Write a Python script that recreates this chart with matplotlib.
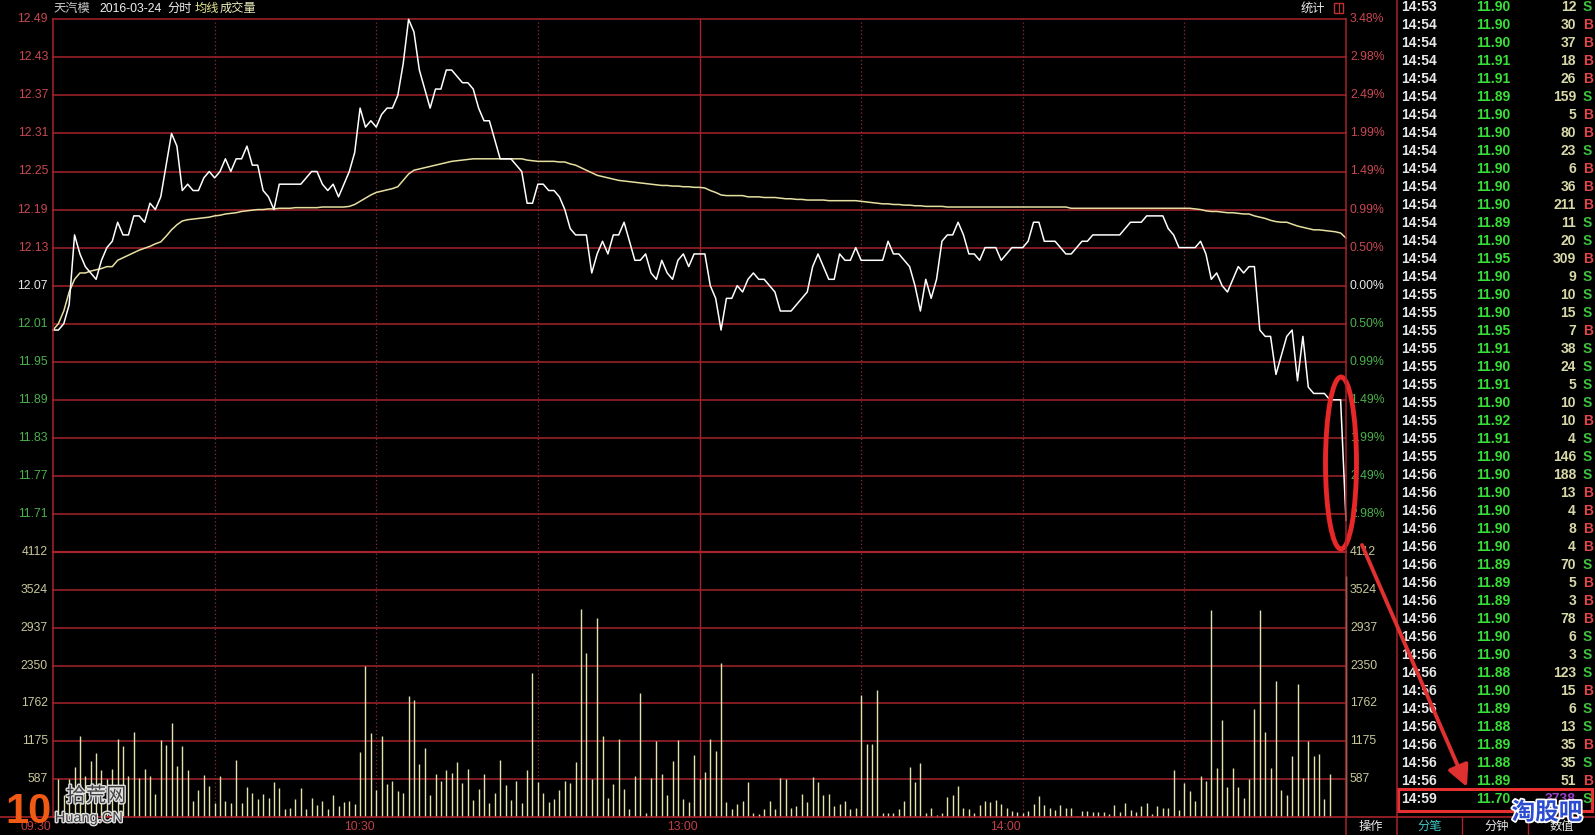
import matplotlib
matplotlib.use('Agg')
import matplotlib.pyplot as plt
from matplotlib.patches import Ellipse, Rectangle
import matplotlib.patheffects as pe

plt.rcParams['font.family'] = ['Liberation Sans', 'Noto Sans CJK SC']

# ---------------- data ----------------
stock_name = "天汽模"
trade_date = "2016-03-24"
pre_close = 12.07

price = [
    12.00, 12.00, 12.01, 12.04, 12.15, 12.12, 12.10, 12.09, 12.08, 12.11,
    12.13, 12.14, 12.17, 12.15, 12.15, 12.18, 12.18, 12.17, 12.20, 12.19,
    12.21, 12.26, 12.31, 12.29, 12.22, 12.23, 12.22, 12.22, 12.24, 12.25,
    12.24, 12.25, 12.27, 12.25, 12.27, 12.27, 12.29, 12.26, 12.26, 12.22,
    12.21, 12.19, 12.23, 12.23, 12.23, 12.23, 12.23, 12.24, 12.25, 12.25,
    12.23, 12.22, 12.23, 12.21, 12.23, 12.25, 12.28, 12.35, 12.32, 12.33,
    12.32, 12.34, 12.35, 12.35, 12.37, 12.42, 12.49, 12.47, 12.41, 12.38,
    12.35, 12.38, 12.38, 12.41, 12.41, 12.40, 12.39, 12.39, 12.38, 12.35,
    12.33, 12.33, 12.30, 12.27, 12.27, 12.27, 12.26, 12.25, 12.20, 12.20,
    12.23, 12.23, 12.22, 12.22, 12.21, 12.19, 12.16, 12.15, 12.15, 12.15,
    12.09, 12.12, 12.14, 12.12, 12.15, 12.15, 12.17, 12.14, 12.11, 12.11,
    12.12, 12.09, 12.08, 12.11, 12.09, 12.08, 12.11, 12.12, 12.10, 12.12,
    12.12,
    12.12, 12.07, 12.05, 12.00, 12.05, 12.05, 12.07, 12.06, 12.08, 12.09,
    12.08, 12.08, 12.07, 12.06, 12.03, 12.03, 12.03, 12.04, 12.05, 12.06,
    12.10, 12.12, 12.10, 12.08, 12.08, 12.12, 12.11, 12.11, 12.13, 12.11,
    12.11, 12.11, 12.11, 12.11, 12.14, 12.12, 12.12, 12.11, 12.10, 12.07,
    12.03, 12.08, 12.05, 12.08, 12.14, 12.15, 12.15, 12.17, 12.15, 12.12,
    12.12, 12.11, 12.13, 12.13, 12.13, 12.11, 12.12, 12.13, 12.13, 12.13,
    12.14, 12.17, 12.17, 12.14, 12.14, 12.14, 12.13, 12.12, 12.12, 12.13,
    12.14, 12.14, 12.15, 12.15, 12.15, 12.15, 12.15, 12.15, 12.16, 12.17,
    12.17, 12.17, 12.18, 12.18, 12.18, 12.18, 12.16, 12.15, 12.13, 12.13,
    12.13, 12.13, 12.14, 12.12, 12.08, 12.09, 12.07, 12.06, 12.08, 12.10,
    12.09, 12.10, 12.10, 12.00, 11.99, 11.99, 11.93, 11.96, 11.99, 12.00,
    11.92, 11.99, 11.91, 11.90, 11.90, 11.90, 11.89, 11.89, 11.89, 11.70,
]

avg_price = [
    12.000, 12.010, 12.030, 12.060, 12.080, 12.090, 12.090, 12.093, 12.095, 12.097,
    12.100, 12.100, 12.110, 12.114, 12.118, 12.122, 12.126, 12.129, 12.132, 12.136,
    12.139, 12.148, 12.158, 12.166, 12.172, 12.174, 12.175, 12.176, 12.177, 12.178,
    12.180, 12.181, 12.183, 12.184, 12.185, 12.187, 12.188, 12.189, 12.190, 12.190,
    12.191, 12.191, 12.192, 12.192, 12.192, 12.193, 12.193, 12.193, 12.193, 12.193,
    12.194, 12.194, 12.194, 12.194, 12.194, 12.195, 12.198, 12.203, 12.208, 12.213,
    12.217, 12.219, 12.221, 12.223, 12.226, 12.236, 12.246, 12.252, 12.254, 12.256,
    12.258, 12.260, 12.262, 12.264, 12.266, 12.267, 12.268, 12.269, 12.270, 12.270,
    12.270, 12.270, 12.270, 12.270, 12.270, 12.270, 12.270, 12.270, 12.268, 12.267,
    12.266, 12.266, 12.266, 12.266, 12.265, 12.265, 12.262, 12.260, 12.256, 12.252,
    12.248, 12.244, 12.242, 12.240, 12.238, 12.236, 12.235, 12.234, 12.233, 12.232,
    12.231, 12.230, 12.229, 12.228, 12.228, 12.227, 12.227, 12.226, 12.226, 12.225,
    12.225,
    12.224, 12.220, 12.217, 12.213, 12.212, 12.212, 12.212, 12.212, 12.210, 12.210,
    12.210, 12.209, 12.209, 12.209, 12.208, 12.207, 12.207, 12.206, 12.206, 12.205,
    12.205, 12.205, 12.205, 12.204, 12.204, 12.204, 12.204, 12.204, 12.204, 12.203,
    12.202, 12.201, 12.200, 12.199, 12.199, 12.198, 12.198, 12.197, 12.197, 12.196,
    12.196, 12.195, 12.195, 12.195, 12.195, 12.194, 12.194, 12.194, 12.194, 12.194,
    12.194, 12.194, 12.194, 12.194, 12.194, 12.194, 12.194, 12.194, 12.194, 12.194,
    12.194, 12.194, 12.194, 12.194, 12.194, 12.194, 12.194, 12.194, 12.192, 12.192,
    12.192, 12.192, 12.192, 12.192, 12.192, 12.192, 12.192, 12.192, 12.192, 12.192,
    12.192, 12.192, 12.192, 12.192, 12.192, 12.192, 12.192, 12.192, 12.192, 12.192,
    12.192, 12.191, 12.190, 12.188, 12.187, 12.187, 12.186, 12.185, 12.185, 12.184,
    12.183, 12.183, 12.180, 12.178, 12.176, 12.173, 12.171, 12.170, 12.170, 12.167,
    12.164, 12.162, 12.160, 12.158, 12.158, 12.157, 12.156, 12.155, 12.153, 12.145,
]

volume = [
    0, 582, 335, 582, 778, 1252, 634, 866, 995, 737,
    582, 747, 1211, 1098, 634, 1314, 608, 747, 634, 350,
    1201, 1123, 1458, 788, 1108, 737, 247, 417, 644, 479,
    211, 634, 247, 211, 891, 211, 469, 376, 273, 350,
    289, 546, 453, 129, 144, 273, 453, 118, 289, 180,
    247, 118, 335, 170, 232, 247, 196, 1010, 2345, 1304,
    417, 1252, 505, 557, 402, 376, 1871, 1809, 830, 1072,
    335, 660, 557, 727, 675, 850, 520, 747, 263, 428,
    660, 211, 376, 891, 490, 263, 557, 222, 727, 2231,
    541, 376, 232, 273, 417, 557, 520, 850, 3221, 2551,
    582, 3081, 1252, 299, 505, 1211, 428, 118, 634, 1922,
    67, 608, 1175, 660, 335, 866, 1201, 273, 232, 969,
    582,
    696, 1211, 1020, 2396, 232, 118, 196, 247, 541, 67,
    41, 118, 247, 118, 608, 582, 144, 170, 361, 232,
    624, 546, 335, 361, 170, 206, 247, 129, 144, 1896,
    1139, 1139, 1974, 67, 67, 67, 118, 249, 782, 548,
    832, 65, 139, 35, 65, 309, 349, 488, 139, 125,
    65, 189, 249, 234, 259, 209, 139, 90, 75, 65,
    100, 199, 333, 189, 134, 110, 189, 134, 134, 15,
    90, 90, 75, 75, 75, 50, 189, 75, 224, 110,
    75, 174, 224, 50, 174, 134, 134, 722, 110, 523,
    398, 249, 632, 563, 3210, 763, 1510, 464, 763, 464,
    299, 593, 1675, 3210, 1314, 763, 2113, 417, 335, 943,
    2066, 608, 1175, 943, 984, 273, 660, 0, 0, 3738,
]

price_ticks = [12.49, 12.43, 12.37, 12.31, 12.25, 12.19, 12.13, 12.07,
               12.01, 11.95, 11.89, 11.83, 11.77, 11.71]
pct_labels = ["3.48%", "2.98%", "2.49%", "1.99%", "1.49%", "0.99%", "0.50%", "0.00%",
              "0.50%", "0.99%", "1.49%", "1.99%", "2.49%", "2.98%"]
vol_ticks = [587, 1175, 1762, 2350, 2937, 3524, 4112]
vol_tick_pos = [587.4, 1174.9, 1762.3, 2349.7, 2937.1, 3524.6, 4112.0]
time_labels = ["09:30", "10:30", "13:00", "14:00"]
time_label_idx = [0, 60, 120, 180]

tick_times = ["14:53", "14:54", "14:54", "14:54", "14:54", "14:54", "14:54", "14:54",
              "14:54", "14:54", "14:54", "14:54", "14:54", "14:54", "14:54", "14:54",
              "14:55", "14:55", "14:55", "14:55", "14:55", "14:55", "14:55", "14:55",
              "14:55", "14:55", "14:56", "14:56", "14:56", "14:56", "14:56", "14:56",
              "14:56", "14:56", "14:56", "14:56", "14:56", "14:56", "14:56", "14:56",
              "14:56", "14:56", "14:56", "14:56", "14:59"]
tick_prices = ["11.90", "11.90", "11.90", "11.91", "11.91", "11.89", "11.90", "11.90",
               "11.90", "11.90", "11.90", "11.90", "11.89", "11.90", "11.95", "11.90",
               "11.90", "11.90", "11.95", "11.91", "11.90", "11.91", "11.90", "11.92",
               "11.91", "11.90", "11.90", "11.90", "11.90", "11.90", "11.90", "11.89",
               "11.89", "11.89", "11.90", "11.90", "11.90", "11.88", "11.90", "11.89",
               "11.88", "11.89", "11.88", "11.89", "11.70"]
tick_vols = ["12", "30", "37", "18", "26", "159", "5", "80", "23", "6", "36", "211",
             "11", "20", "309", "9", "10", "15", "7", "38", "24", "5", "10", "10", "4",
             "146", "188", "13", "4", "8", "4", "70", "5", "3", "78", "6", "3", "123",
             "15", "6", "13", "35", "35", "51", "3738"]
tick_sides = ["S", "B", "B", "B", "B", "S", "B", "B", "S", "B", "B", "B", "S", "S", "B",
              "S", "S", "S", "B", "S", "S", "S", "S", "B", "S", "S", "S", "B", "B", "B",
              "B", "S", "B", "B", "B", "S", "S", "S", "B", "S", "S", "B", "S", "B", "S"]

# ---------------- style ----------------
W, H = 1595, 835
X0, X1 = 53, 1346
Y_TOP, Y_MID, Y_BOT = 19.3, 552, 817
GRID = '#a8222c'
DOT = '#922a32'
RED_T = '#c84852'
GREEN_T = '#4cb04c'
VOL_T = '#c8c89a'
AVG_C = '#e6e0a0'
BAR_C = '#e2e2aa'

fig = plt.figure(figsize=(W / 100, H / 100), dpi=100, facecolor='black')


def frect(x0, y0, x1, y1):
    return [x0 / W, 1 - y1 / H, (x1 - x0) / W, (y1 - y0) / H]


axp = fig.add_axes(frect(X0, Y_TOP, X1, Y_MID))
axv = fig.add_axes(frect(X0, Y_MID, X1, Y_BOT))
for ax in (axp, axv):
    ax.set_facecolor('black')
    ax.set_xlim(0, 240)
    ax.axis('off')
axp.set_ylim(11.65, 12.49)
axv.set_ylim(0, 4112)

idx = list(range(len(price)))

# grids
for p in price_ticks:
    axp.axhline(p, color=GRID, lw=1.1, clip_on=False, zorder=1)
axp.axhline(11.65, color=GRID, lw=1.6, clip_on=False, zorder=1)
for v in vol_tick_pos[:-1]:
    axv.axhline(v, color=GRID, lw=1.1, clip_on=False, zorder=1)
for ax in (axp, axv):
    for i in [30, 60, 90, 150, 180, 210]:
        ax.axvline(i, color=DOT, lw=0.9, ls=(0, (1, 2)), zorder=1)
    ax.axvline(120, color=GRID, lw=1.0, zorder=1)

axp.plot(idx, avg_price, color=AVG_C, lw=1.1, zorder=3, clip_on=False)
axp.plot(idx, price, color='white', lw=1.1, zorder=4, clip_on=False)
axv.vlines(idx, 0, volume, color=BAR_C, lw=1.0, zorder=3, clip_on=False)

# axis labels
ty_p = axp.get_yaxis_transform()
for p, lab in zip(price_ticks, pct_labels):
    if p > pre_close + 1e-9:
        c = RED_T
    elif p < pre_close - 1e-9:
        c = GREEN_T
    else:
        c = '#e8e8e8'
    axp.text(-5 / 1293, p, f"{p:.2f}", transform=ty_p, ha='right', va='center',
             color=c, fontsize=8.8)
    axp.text(1 + 4 / 1293, p, lab, transform=ty_p, ha='left', va='center',
             color=c, fontsize=8.8)
ty_v = axv.get_yaxis_transform()
for v, lab in zip(vol_tick_pos, vol_ticks):
    axv.text(-5 / 1293, v, str(lab), transform=ty_v, ha='right',
             va='center', color=VOL_T, fontsize=8.8)
    axv.text(1 + 4 / 1293, v, str(lab), transform=ty_v, ha='left', va='center',
             color=VOL_T, fontsize=8.8)
tx_v = axv.get_xaxis_transform()
for i, lab in zip(time_label_idx, time_labels):
    axv.text(i - 0.3, -10 / 265, lab, transform=tx_v, ha='right', va='center',
             color='#c04048', fontsize=8.8)

# ---------------- overlay ----------------
ov = fig.add_axes([0, 0, 1, 1])
ov.set_xlim(0, W)
ov.set_ylim(H, 0)
ov.axis('off')
ov.patch.set_alpha(0)
ov.set_zorder(10)

# frame lines
ov.plot([X0, X0], [Y_TOP, Y_BOT], color=GRID, lw=1.1)
ov.plot([X1, X1], [Y_TOP, H], color=GRID, lw=1.1)
ov.plot([1397, 1397], [0, H], color=GRID, lw=1.1)
ov.plot([0, W], [Y_BOT, Y_BOT], color=GRID, lw=1.2)
for xs in [1462, 1528]:
    ov.plot([xs, xs], [Y_BOT, H], color=GRID, lw=1.0)

# header
ov.text(53, 9, stock_name, color='#c8c8c8', fontsize=8.8, va='center', ha='left')
ov.text(99, 9, trade_date, color='#f0f0f0', fontsize=8.8, va='center', ha='left')
ov.text(167, 9, "分时", color='#f0f0f0', fontsize=8.8, va='center', ha='left')
ov.text(195, 9, "均线", color='#e8e890', fontsize=8.8, va='center', ha='left')
ov.text(220, 9, "成交量", color='#e8e8b8', fontsize=8.8, va='center', ha='left')
ov.text(1301, 9, "统计", color='#e8e8e8', fontsize=8.8, va='center', ha='left')
ov.add_patch(Rectangle((1334, 3), 9, 10, fill=False, edgecolor='#c03030', lw=1))
ov.plot([1338.5, 1338.5], [3, 13], color='#c03030', lw=0.8)

# trade table
row0, dy = 7.3, 18.0
for k in range(len(tick_times)):
    y = row0 + dy * k
    ov.text(1401, y, tick_times[k], color='#e8e8e8', fontsize=10, fontweight='bold',
            ha='left', va='center')
    ov.text(1510, y, tick_prices[k], color='#38e038', fontsize=10, fontweight='bold',
            ha='right', va='center')
    vc = '#a040c8' if k == len(tick_times) - 1 else '#d8d8a8'
    ov.text(1576, y, tick_vols[k], color=vc, fontsize=10, fontweight='bold',
            ha='right', va='center')
    sc = '#e04848' if tick_sides[k] == 'B' else '#40c040'
    ov.text(1583, y, tick_sides[k], color=sc, fontsize=10, fontweight='bold',
            ha='left', va='center')
ov.add_patch(Rectangle((1398, 789), 194, 22, fill=False, edgecolor='#e83030', lw=2.2))

# bottom tabs
ov.text(1371, 827, "操作", color='#e8e8e8', fontsize=8.8, ha='center', va='center')
ov.text(1430, 827, "分笔", color='#40c8c8', fontsize=8.8, ha='center', va='center')
ov.text(1497, 827, "分钟", color='#e8e8e8', fontsize=8.8, ha='center', va='center')
ov.text(1562, 827, "数值", color='#e8e8e8', fontsize=8.8, ha='center', va='center')

# annotation ellipse and arrow
ov.add_patch(Ellipse((1341, 463), 31, 172, fill=False, edgecolor='#e82828', lw=3.5))
ov.annotate("", xy=(1467, 787), xytext=(1362, 545),
            arrowprops=dict(arrowstyle='-|>', color='#e03030', lw=2.8,
                            mutation_scale=32, shrinkA=0, shrinkB=0))

# watermarks
ov.text(1547, 813, "淘股吧", color='#2c4cd0', fontsize=17, fontweight='bold',
        ha='center', va='center',
        path_effects=[pe.withStroke(linewidth=2.5, foreground='white')])
ov.text(29, 812, "10", color='#f05a14', fontsize=30, fontweight='bold',
        ha='center', va='center')
ov.text(96, 796, "拾荒网", color='#404040', fontsize=14.5, ha='center', va='center',
        path_effects=[pe.withStroke(linewidth=2, foreground='#e0e0e0')])
ov.text(89, 818, "Huang.CN", color='#404040', fontsize=10.5, ha='center', va='center',
        path_effects=[pe.withStroke(linewidth=2, foreground='#e0e0e0')])

fig.savefig('out.png', dpi=100, facecolor='black')
